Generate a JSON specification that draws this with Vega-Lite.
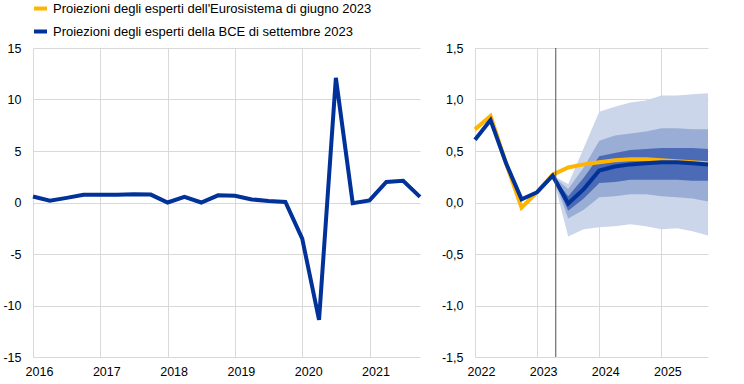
{
  "$schema": "https://vega.github.io/schema/vega-lite/v6.json",
  "padding": {"left": 0, "top": 0, "right": 0, "bottom": 0},
  "spacing": 13,
  "config": {
    "view": {"stroke": null},
    "font": "Liberation Sans",
    "axis": {"grid": true, "gridColor": "#d9d9d9", "gridWidth": 1, "ticks": false, "domain": false, "labelFont": "Liberation Sans", "labelFontSize": 12.5, "labelColor": "#000000", "title": null},
    "legend": {"labelFont": "Liberation Sans", "labelFontSize": 13, "labelColor": "#000000", "labelLimit": 0}
  },
  "datasets": {
    "hist": [
      {"t": 2016.0, "v": 0.58}, {"t": 2016.25, "v": 0.17}, {"t": 2016.5, "v": 0.45}, {"t": 2016.75, "v": 0.75},
      {"t": 2017.0, "v": 0.75}, {"t": 2017.25, "v": 0.75}, {"t": 2017.5, "v": 0.8}, {"t": 2017.75, "v": 0.77},
      {"t": 2018.0, "v": 0.0}, {"t": 2018.25, "v": 0.55}, {"t": 2018.5, "v": 0.0}, {"t": 2018.75, "v": 0.7},
      {"t": 2019.0, "v": 0.65}, {"t": 2019.25, "v": 0.3}, {"t": 2019.5, "v": 0.15}, {"t": 2019.75, "v": 0.05},
      {"t": 2020.0, "v": -3.5}, {"t": 2020.25, "v": -11.4}, {"t": 2020.5, "v": 12.1}, {"t": 2020.75, "v": -0.06},
      {"t": 2021.0, "v": 0.2}, {"t": 2021.25, "v": 2.0}, {"t": 2021.5, "v": 2.1}, {"t": 2021.75, "v": 0.55}
    ],
    "june": [
      {"t": 2022.0, "v": 0.71}, {"t": 2022.25, "v": 0.84}, {"t": 2022.5, "v": 0.38}, {"t": 2022.75, "v": -0.05},
      {"t": 2023.0, "v": 0.10}, {"t": 2023.25, "v": 0.27}, {"t": 2023.5, "v": 0.34}, {"t": 2023.75, "v": 0.37},
      {"t": 2024.0, "v": 0.39}, {"t": 2024.25, "v": 0.41}, {"t": 2024.5, "v": 0.42}, {"t": 2024.75, "v": 0.42},
      {"t": 2025.0, "v": 0.41}, {"t": 2025.25, "v": 0.40}, {"t": 2025.5, "v": 0.39}, {"t": 2025.75, "v": 0.38}
    ],
    "sept": [
      {"t": 2022.0, "v": 0.61}, {"t": 2022.25, "v": 0.80}, {"t": 2022.5, "v": 0.38}, {"t": 2022.75, "v": 0.03},
      {"t": 2023.0, "v": 0.10}, {"t": 2023.25, "v": 0.26}, {"t": 2023.5, "v": -0.01}, {"t": 2023.75, "v": 0.13},
      {"t": 2024.0, "v": 0.31}, {"t": 2024.25, "v": 0.35}, {"t": 2024.5, "v": 0.37}, {"t": 2024.75, "v": 0.38},
      {"t": 2025.0, "v": 0.39}, {"t": 2025.25, "v": 0.39}, {"t": 2025.5, "v": 0.38}, {"t": 2025.75, "v": 0.37}
    ],
    "fan": [
      {"t": 2023.25, "lo1": 0.26, "hi1": 0.26, "lo2": 0.26, "hi2": 0.26, "lo3": 0.26, "hi3": 0.26},
      {"t": 2023.5, "lo1": -0.33, "hi1": 0.18, "lo2": -0.155, "hi2": 0.13, "lo3": -0.08, "hi3": 0.06},
      {"t": 2023.75, "lo1": -0.26, "hi1": 0.53, "lo2": -0.07, "hi2": 0.34, "lo3": 0.04, "hi3": 0.24},
      {"t": 2024.0, "lo1": -0.24, "hi1": 0.88, "lo2": 0.05, "hi2": 0.60, "lo3": 0.19, "hi3": 0.45},
      {"t": 2024.25, "lo1": -0.23, "hi1": 0.93, "lo2": 0.06, "hi2": 0.65, "lo3": 0.20, "hi3": 0.48},
      {"t": 2024.5, "lo1": -0.21, "hi1": 0.97, "lo2": 0.08, "hi2": 0.67, "lo3": 0.22, "hi3": 0.51},
      {"t": 2024.75, "lo1": -0.23, "hi1": 0.99, "lo2": 0.08, "hi2": 0.69, "lo3": 0.22, "hi3": 0.52},
      {"t": 2025.0, "lo1": -0.26, "hi1": 1.04, "lo2": 0.06, "hi2": 0.72, "lo3": 0.22, "hi3": 0.53},
      {"t": 2025.25, "lo1": -0.25, "hi1": 1.04, "lo2": 0.05, "hi2": 0.72, "lo3": 0.22, "hi3": 0.53},
      {"t": 2025.5, "lo1": -0.28, "hi1": 1.05, "lo2": 0.04, "hi2": 0.71, "lo3": 0.21, "hi3": 0.53},
      {"t": 2025.75, "lo1": -0.32, "hi1": 1.06, "lo2": 0.01, "hi2": 0.71, "lo3": 0.21, "hi3": 0.52}
    ],
    "vline": [{"t": 2023.3}],
    "legend": [
      {"t": 2016.0, "v": 0.58, "s": "Proiezioni degli esperti dell'Eurosistema di giugno 2023"},
      {"t": 2016.0, "v": 0.58, "s": "Proiezioni degli esperti della BCE di settembre 2023"}
    ]
  },
  "resolve": {"scale": {"color": "independent"}, "legend": {"color": "independent"}},
  "hconcat": [
    {
      "width": 387,
      "height": 309,
      "layer": [
        {
          "data": {"name": "hist"},
          "mark": {"type": "line", "strokeWidth": 4, "color": "#003299"},
          "encoding": {
            "x": {"field": "t", "type": "quantitative", "scale": {"domain": [2016, 2021.75], "nice": false, "zero": false},
                  "axis": {"values": [2016, 2017, 2018, 2019, 2020, 2021], "format": "d", "labelFlush": false, "labelOffset": 6, "labelPadding": 8}},
            "y": {"field": "v", "type": "quantitative", "scale": {"domain": [-15, 15], "nice": false},
                  "axis": {"values": [-15, -10, -5, 0, 5, 10, 15], "labelExpr": "'' + datum.value", "labelPadding": 12, "minExtent": 33, "maxExtent": 33}}
          }
        },
        {
          "data": {"name": "legend"},
          "mark": {"type": "line", "strokeWidth": 4, "opacity": 0},
          "encoding": {
            "x": {"field": "t", "type": "quantitative"},
            "y": {"field": "v", "type": "quantitative"},
            "color": {"field": "s", "type": "nominal",
                      "scale": {"domain": ["Proiezioni degli esperti dell'Eurosistema di giugno 2023", "Proiezioni degli esperti della BCE di settembre 2023"], "range": ["#ffb400", "#003299"]},
                      "legend": {"orient": "none", "legendX": -1, "legendY": -48, "title": null, "direction": "vertical", "padding": 0, "labelLimit": 0,
                                 "symbolType": "stroke", "symbolSize": 169, "symbolStrokeWidth": 4, "symbolOpacity": 1, "labelOffset": 4, "rowPadding": 6}}
          }
        }
      ]
    },
    {
      "width": 233,
      "height": 309,
      "encoding": {
        "x": {"field": "t", "type": "quantitative", "scale": {"domain": [2022, 2025.75], "nice": false, "zero": false},
              "axis": {"values": [2022, 2023, 2024, 2025], "format": "d", "labelFlush": false, "labelOffset": 6, "labelPadding": 8}}
      },
      "layer": [
        {
          "data": {"name": "fan"},
          "mark": {"type": "area", "color": "#ccd6ea", "opacity": 1},
          "encoding": {
            "y": {"field": "lo1", "type": "quantitative", "scale": {"domain": [-1.5, 1.5], "nice": false},
                  "axis": {"values": [-1.5, -1, -0.5, 0, 0.5, 1, 1.5], "labelExpr": "replace(replace(format(datum.value, '.1f'), '.', ','), '\u2212', '-')", "labelPadding": 12, "minExtent": 33, "maxExtent": 33}},
            "y2": {"field": "hi1"}
          }
        },
        {
          "data": {"name": "fan"},
          "mark": {"type": "area", "color": "#99add5", "opacity": 1},
          "encoding": {"y": {"field": "lo2", "type": "quantitative"}, "y2": {"field": "hi2"}}
        },
        {
          "data": {"name": "fan"},
          "mark": {"type": "area", "color": "#4b6bb6", "opacity": 1},
          "encoding": {"y": {"field": "lo3", "type": "quantitative"}, "y2": {"field": "hi3"}}
        },
        {
          "data": {"name": "june"},
          "mark": {"type": "line", "strokeWidth": 4, "color": "#ffb400"},
          "encoding": {"y": {"field": "v", "type": "quantitative"}}
        },
        {
          "data": {"name": "sept"},
          "mark": {"type": "line", "strokeWidth": 4, "color": "#003299"},
          "encoding": {"y": {"field": "v", "type": "quantitative"}}
        },
        {
          "data": {"name": "vline"},
          "mark": {"type": "rule", "color": "#505050", "strokeWidth": 1},
          "encoding": {}
        }
      ]
    }
  ]
}
